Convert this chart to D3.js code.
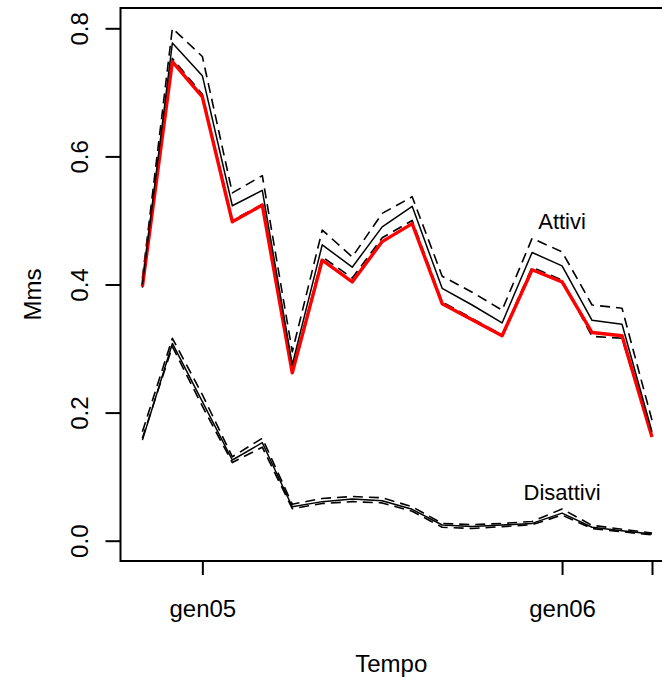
<!DOCTYPE html>
<html>
<head>
<meta charset="utf-8">
<script src="https://cdn.jsdelivr.net/npm/d3@7"></script>
<style>
  body { margin: 0; background: #fff; }
  text { font-family: "Liberation Sans", Arial, sans-serif; fill: #000; }
</style>
</head>
<body>
<svg id="chart" width="662" height="680"></svg>
<script>
// monthly series, nov04 .. apr06
const months = ["nov04","dic04","gen05","feb05","mar05","apr05","mag05","giu05","lug05",
                "ago05","set05","ott05","nov05","dic05","gen06","feb06","mar06","apr06"];

const attiviObs = [0.397,0.748,0.693,0.498,0.524,0.262,0.438,0.404,0.467,0.495,0.370,0.345,0.320,0.423,0.404,0.325,0.320,0.162];
const attiviFit = [0.400,0.777,0.726,0.523,0.547,0.275,0.462,0.427,0.490,0.522,0.394,0.368,0.340,0.450,0.429,0.344,0.338,0.170];
const attiviUp  = [0.410,0.800,0.756,0.543,0.570,0.295,0.485,0.443,0.511,0.537,0.413,0.388,0.360,0.472,0.451,0.368,0.363,0.188];
const attiviLo  = [0.395,0.753,0.697,0.500,0.525,0.262,0.443,0.410,0.473,0.500,0.373,0.347,0.321,0.427,0.407,0.319,0.316,0.163];

const disattiviFit = [0.157,0.308,0.217,0.126,0.153,0.053,0.061,0.065,0.0625,0.049,0.0245,0.022,0.0245,0.027,0.043,0.021,0.0156,0.0105];
const disattiviUp  = [0.170,0.316,0.228,0.131,0.160,0.057,0.066,0.069,0.067,0.053,0.027,0.025,0.027,0.030,0.0495,0.024,0.018,0.012];
const disattiviLo  = [0.160,0.303,0.210,0.122,0.146,0.050,0.058,0.061,0.059,0.046,0.021,0.019,0.022,0.025,0.040,0.019,0.014,0.009];

const xTickIdx = [2, 14, 17];
const xTickLabels = ["gen05", "gen06", ""];
const yTicks = [0, 0.2, 0.4, 0.6, 0.8];

const box = {left: 120.5, top: 8, right: 674, bottom: 561};

const x = d3.scaleLinear()
    .domain([0, months.length - 1])
    .range([142.4, 652.0]);

const y = d3.scaleLinear()
    .domain([0, 0.8])
    .range([540.7, 28.3]);

const svg = d3.select("#chart");

const line = d3.line()
    .x((d, i) => x(i))
    .y(d => y(d));

const g = svg.append("g");

// plot box
g.append("rect")
    .attr("x", box.left)
    .attr("y", box.top)
    .attr("width", box.right - box.left)
    .attr("height", box.bottom - box.top)
    .attr("fill", "none")
    .attr("stroke", "#000")
    .attr("stroke-width", 2);

// y axis (R style: ticks outside, labels rotated)
const yAxis = g.append("g")
    .attr("transform", `translate(${box.left},0)`)
    .call(d3.axisLeft(y).tickValues(yTicks).tickFormat(d3.format(".1f")).tickSize(15));
yAxis.select(".domain").remove();
yAxis.selectAll(".tick line").attr("stroke-width", 2);
yAxis.selectAll(".tick text")
    .attr("x", 0).attr("dy", 0)
    .attr("transform", "translate(-33,0) rotate(-90)")
    .attr("text-anchor", "middle")
    .style("font-size", "24px");

// x axis
const xAxis = g.append("g")
    .attr("transform", `translate(0,${box.bottom})`)
    .call(d3.axisBottom(x).tickValues(xTickIdx).tickFormat((d, i) => xTickLabels[i]).tickSize(14));
xAxis.select(".domain").remove();
xAxis.selectAll(".tick line").attr("stroke-width", 2);
xAxis.selectAll(".tick text")
    .attr("y", 56).attr("dy", 0)
    .style("font-size", "24px");

// bands and fitted lines
const series = [
  {data: attiviUp, color: "#000", width: 1.6, dash: "10,6"},
  {data: attiviLo, color: "#000", width: 1.6, dash: "10,6"},
  {data: attiviObs, color: "#ff0000", width: 3.4, dash: null},
  {data: attiviFit, color: "#000", width: 1.5, dash: null},
  {data: disattiviUp, color: "#000", width: 1.6, dash: "10,6"},
  {data: disattiviLo, color: "#000", width: 1.6, dash: "10,6"},
  {data: disattiviFit, color: "#000", width: 1.5, dash: null}
];

g.append("g")
    .attr("fill", "none")
  .selectAll("path")
  .data(series)
  .join("path")
    .attr("d", d => line(d.data))
    .attr("stroke", d => d.color)
    .attr("stroke-width", d => d.width)
    .attr("stroke-dasharray", d => d.dash)
    .attr("stroke-linejoin", "round");

// labels
g.append("text")
    .attr("x", x(14))
    .attr("y", 229)
    .attr("text-anchor", "middle")
    .style("font-size", "22px")
    .text("Attivi");

g.append("text")
    .attr("x", x(14))
    .attr("y", 500)
    .attr("text-anchor", "middle")
    .style("font-size", "22px")
    .text("Disattivi");

g.append("text")
    .attr("x", (box.left + box.right) / 2 - 6)
    .attr("y", 672)
    .attr("text-anchor", "middle")
    .style("font-size", "24px")
    .text("Tempo");

g.append("text")
    .attr("transform", `translate(41,${(box.top + box.bottom) / 2 + 10}) rotate(-90)`)
    .attr("text-anchor", "middle")
    .style("font-size", "24px")
    .text("Mms");
</script>
</body>
</html>
